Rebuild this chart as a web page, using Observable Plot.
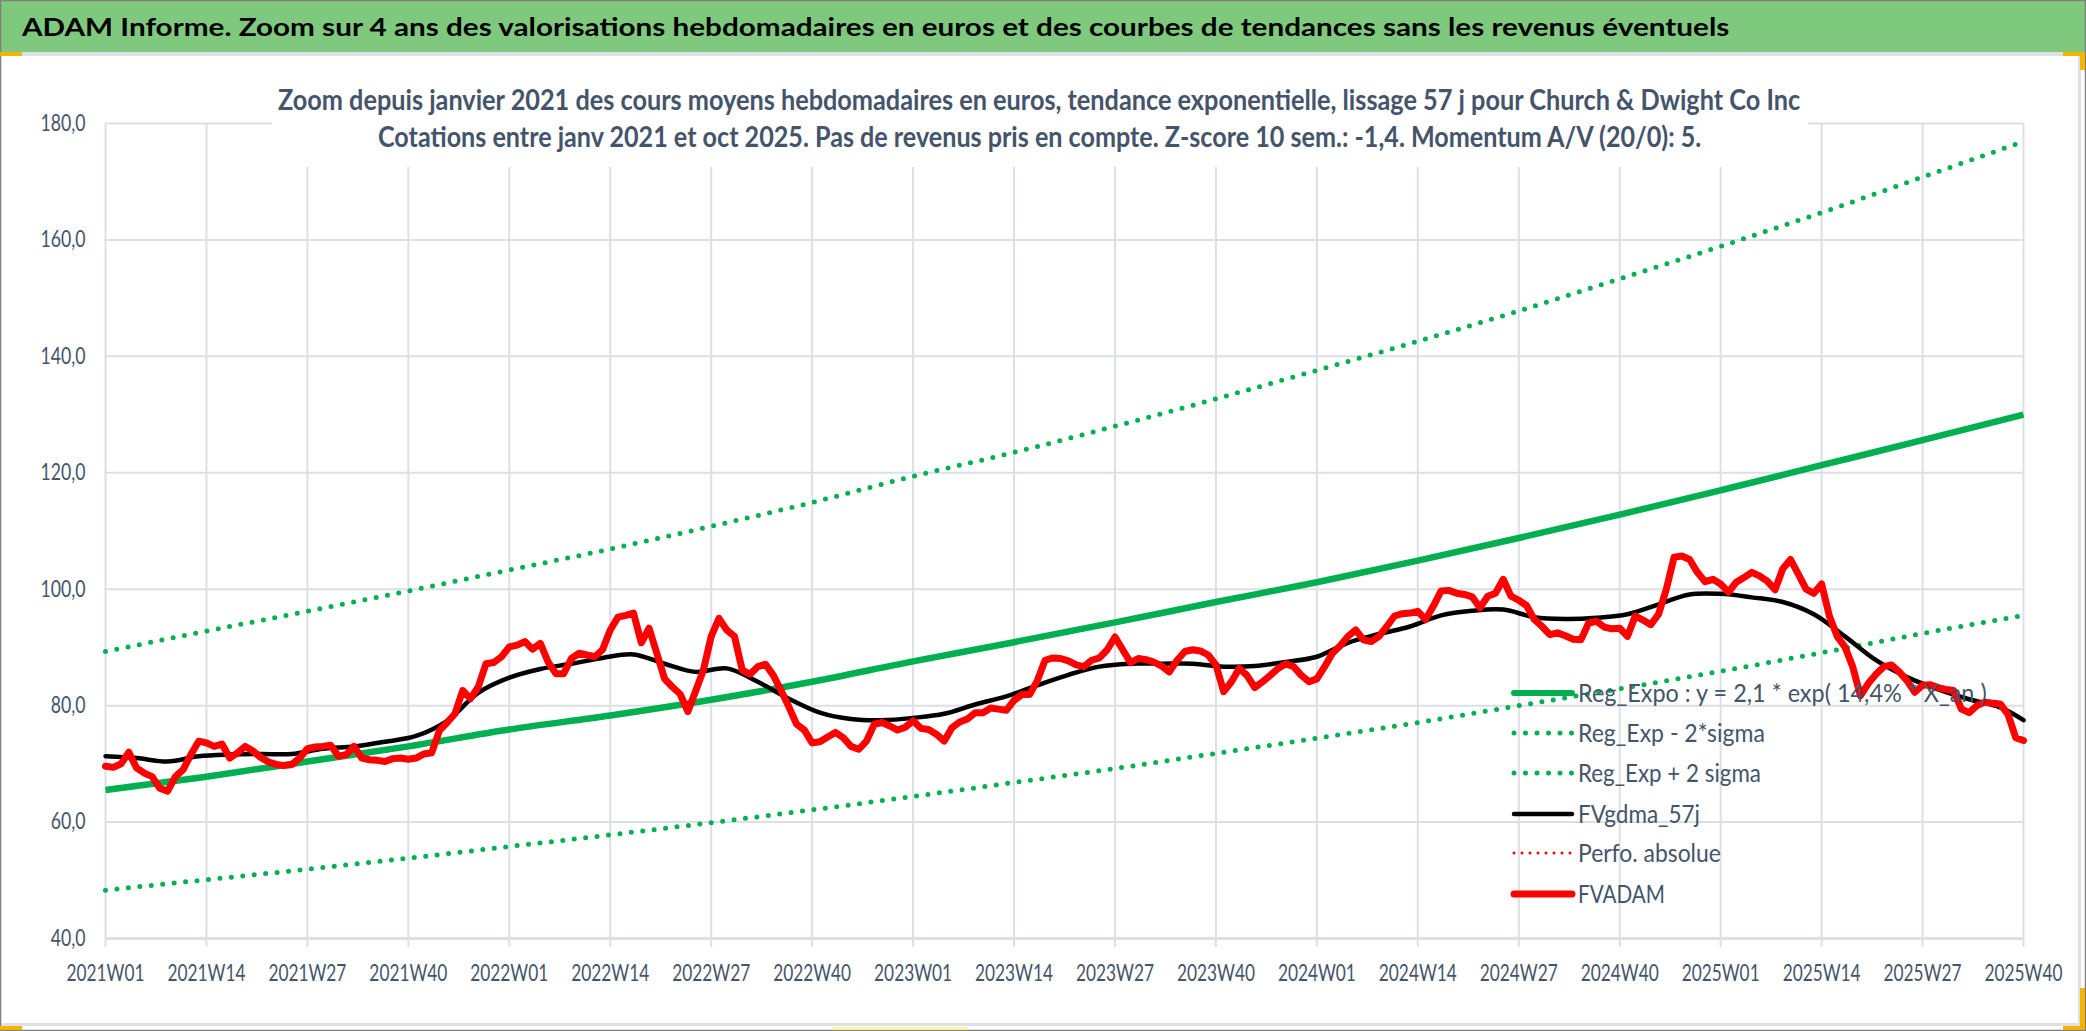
<!DOCTYPE html>
<html><head><meta charset="utf-8">
<script src="https://cdn.jsdelivr.net/npm/d3@7"></script>
<script src="https://cdn.jsdelivr.net/npm/@observablehq/plot@0.6"></script>
<style>
html,body{margin:0;padding:0;background:#fff;}
#page{position:relative;width:2086px;height:1031px;overflow:hidden;background:#fff;}
#page svg{position:absolute;left:0;top:0;}
</style></head><body><div id="page"></div>
<script>
const FONT = "Lato, 'Liberation Sans', sans-serif";

const titleText = "ADAM Informe. Zoom sur 4 ans des valorisations hebdomadaires en euros et des courbes de tendances sans les revenus éventuels";
const subtitle1 = "Zoom depuis janvier 2021 des cours moyens hebdomadaires en euros, tendance exponentielle, lissage 57 j pour Church & Dwight Co Inc";
const subtitle2 = "Cotations entre janv 2021 et oct 2025. Pas de revenus pris en compte. Z-score 10 sem.: -1,4. Momentum A/V (20/0): 5.";

// weekly category tick labels (one every 13 weeks)
const tickLabels = ["2021W01","2021W14","2021W27","2021W40","2022W01","2022W14","2022W27","2022W40",
  "2023W01","2023W14","2023W27","2023W40","2024W01","2024W14","2024W27","2024W40",
  "2025W01","2025W14","2025W27","2025W40"];
const yTicks = [40, 60, 80, 100, 120, 140, 160, 180];

// trend curves read at each tick label
const regExpo = [65.5,67.8,70.4,73.0,75.9,78.3,81.0,84.1,87.6,90.9,94.3,97.8,101.2,104.9,108.8,112.8,117.0,121.3,125.6,130.0];
const regMinus = [48.3,50.1,51.9,53.8,55.8,57.8,59.9,62.1,64.4,66.8,69.2,71.8,74.4,77.1,80.0,82.9,85.9,89.1,92.4,95.5];
const regPlus = [89.3,92.8,96.2,99.7,103.3,106.9,110.8,114.9,119.4,123.5,128.0,132.7,137.6,142.6,147.8,153.3,158.9,164.7,170.8,176.9];

// FVgdma_57j read every 4 weeks
const maWeek = [0,4,8,12,16,20,24,28,32,36,40,44,48,52,56,60,64,68,72,76,80,84,88,92,96,100,104,108,112,116,120,124,128,132,136,140,144,148,152,156,160,164,168,172,176,180,184,188,192,196,200,204,208,212,216,220,224,228,232,236,240,244,247];
const maVals = [71.3,71.0,70.4,71.3,71.6,71.7,71.7,72.6,73.0,73.8,74.8,77.4,82.2,84.8,86.3,87.2,88.2,88.8,87.2,85.8,86.4,84.1,81.2,78.8,77.7,77.5,77.9,78.6,80.2,81.6,83.5,85.3,86.7,87.2,87.2,87.2,86.7,86.8,87.5,88.4,90.8,92.3,93.6,95.5,96.3,96.5,95.2,94.9,95.1,95.7,97.4,99.1,99.2,98.6,97.8,95.7,91.9,87.8,84.9,82.8,81.1,79.7,77.5];

// FVADAM weekly (2021W01 .. 2025W40)
const fvadam = [
69.6,69.4,70.0,72.0,69.3,68.4,67.8,65.8,65.3,67.8,69.0,71.6,73.9,
73.6,73.0,73.4,71.0,71.9,73.0,72.2,71.1,70.3,69.9,69.7,69.9,71.0,
72.6,72.9,73.0,73.2,71.3,71.6,73.0,71.0,70.7,70.6,70.4,70.9,71.0,
70.8,71.0,71.7,71.9,75.7,77.1,78.6,82.6,81.2,83.2,87.2,87.4,88.4,
90.1,90.4,91.0,89.7,90.7,87.5,85.5,85.5,88.1,89.0,88.7,88.4,89.6,
93.0,95.2,95.5,95.9,90.8,93.3,89.0,84.6,83.2,82.0,79.0,82.5,86.1,
91.9,95.0,93.0,91.9,86.1,85.4,86.7,87.1,85.2,82.6,79.8,76.8,75.8,
73.6,73.8,74.6,75.4,74.5,73.0,72.5,73.9,76.8,77.1,76.5,75.8,76.3,
77.4,76.1,75.9,75.1,73.9,76.2,77.2,77.7,78.8,78.8,79.6,79.4,79.2,
80.9,81.9,81.9,84.3,87.8,88.2,88.1,87.7,87.0,86.7,87.8,88.2,89.6,
91.8,89.6,87.4,88.1,87.9,87.5,86.8,85.8,87.8,89.3,89.6,89.4,88.7,
87.0,82.4,84.1,86.4,85.2,83.1,84.1,85.2,86.4,87.2,86.7,85.2,84.1,
84.6,86.7,89.0,90.3,91.9,93.0,91.3,91.0,91.9,93.6,95.4,95.8,95.9,
96.2,94.8,97.1,99.7,99.8,99.3,99.1,98.7,96.8,98.8,99.3,101.7,98.8,
98.1,97.2,94.8,93.6,92.2,92.5,92.0,91.4,91.3,94.2,94.5,93.5,93.2,
93.3,91.9,95.4,94.7,93.9,95.7,100.0,105.5,105.7,105.1,102.9,101.3,101.7,
100.9,99.5,101.2,102.0,102.9,102.3,101.4,99.9,103.5,105.1,102.6,100.0,99.3,
100.9,95.4,91.9,90.1,86.7,81.7,83.8,85.4,86.7,87.0,85.8,84.3,82.3,
83.5,83.6,83.1,82.8,82.6,79.4,78.8,80.0,80.6,80.4,80.3,78.5,74.5,74.0];

const legendItems = [
  {label: "Reg_Expo : y = 2,1 * exp( 14,4% * X_an )", color: "#00B050", width: 6, dash: null, len: 409},
  {label: "Reg_Exp - 2*sigma", color: "#00B050", width: 5, dash: "0,11.5", len: 187},
  {label: "Reg_Exp + 2 sigma", color: "#00B050", width: 5, dash: "0,11.5", len: 183},
  {label: "FVgdma_57j", color: "#000000", width: 4.5, dash: null, len: 122},
  {label: "Perfo. absolue", color: "#FF0000", width: 3, dash: "0,8", len: 143},
  {label: "FVADAM", color: "#FF0000", width: 7, dash: null, len: 87}
];

const tickIndex = tickLabels.map((_, k) => k * 13);
const GREEN = "#00B050", GRID = "#DCDFE6", SLATE = "#44546A";

const chart = Plot.plot({
  width: 2086, height: 1031,
  marginLeft: 105, marginRight: 63, marginTop: 123, marginBottom: 93,
  style: {background: "transparent", fontFamily: FONT, fontSize: "23px", color: SLATE, overflow: "visible"},
  x: {type: "linear", domain: [0, 247], axis: null},
  y: {type: "linear", domain: [40, 180], axis: null},
  marks: [
    Plot.gridY(yTicks, {stroke: GRID, strokeOpacity: 1, strokeWidth: 2}),
    Plot.gridX(tickIndex, {stroke: GRID, strokeOpacity: 1, strokeWidth: 2}),
    Plot.ruleY([40], {stroke: GRID, strokeWidth: 3}),
    Plot.axisX(tickIndex, {tickSize: 9, tickPadding: 17, stroke: GRID, strokeWidth: 2, fill: SLATE,
      tickFormat: d => tickLabels[Math.round(d / 13)], fontSize: 23}),
    Plot.axisY(yTicks, {tickSize: 0, tickPadding: 20, fill: SLATE,
      tickFormat: d => d.toFixed(1).replace(".", ","), fontSize: 23}),
    Plot.line(regExpo, {x: (d, i) => tickIndex[i], y: d => d, stroke: GREEN, strokeWidth: 6.5, curve: "monotone-x", strokeLinecap: "butt"}),
    Plot.line(regMinus, {x: (d, i) => tickIndex[i], y: d => d, stroke: GREEN, strokeWidth: 5, strokeDasharray: "0,11.5", strokeLinecap: "round", curve: "monotone-x"}),
    Plot.line(regPlus, {x: (d, i) => tickIndex[i], y: d => d, stroke: GREEN, strokeWidth: 5, strokeDasharray: "0,11.5", strokeLinecap: "round", curve: "monotone-x"}),
    Plot.line(maVals, {x: (d, i) => maWeek[i], y: d => d, stroke: "#000", strokeWidth: 4.5, curve: "catmull-rom"}),
    Plot.line(fvadam, {x: (d, i) => i, y: d => d, stroke: "#FF0000", strokeWidth: 7, strokeLinejoin: "round", strokeLinecap: "round"})
  ]
});
const page = document.getElementById("page");
page.appendChild(chart);

// narrow the axis labels horizontally (reference uses a condensed face), keeping their anchor
function squeeze(node, s) {
  const xa = node.getAttribute("x");
  if (xa !== null && !isNaN(+xa)) node.setAttribute("x", +xa / s);
  const t = node.getAttribute("transform") || "";
  node.setAttribute("transform", `${t} scale(${s},1)`);
}
function squeezeAxis(label, refText, target) {
  const texts = chart.querySelectorAll(`g[aria-label="${label}"] text`);
  if (!texts.length) return;
  let ref = null;
  texts.forEach(n => { if (n.textContent === refText) ref = n; });
  const w = (ref || texts[0]).getComputedTextLength();
  if (w > 0) texts.forEach(n => squeeze(n, target / w));
}
squeezeAxis("x-axis tick label", "2025W40", 78);
squeezeAxis("y-axis tick label", "180,0", 45);

// overlay: header band, frame, subtitle box, legend
const ov = d3.select(page).append("svg").attr("width", 2086).attr("height", 1031)
  .attr("style", "position:absolute;left:0;top:0;pointer-events:none;")
  .attr("font-family", FONT);
ov.append("rect").attr("x", 0).attr("y", 0).attr("width", 2086).attr("height", 52).attr("fill", "#7EC97E");
ov.append("rect").attr("x", 0).attr("y", 52).attr("width", 2080).attr("height", 4).attr("fill", "#DDE0E7");
ov.append("rect").attr("x", 2078).attr("y", 52).attr("width", 3).attr("height", 975).attr("fill", "#DDE0E7");
ov.append("rect").attr("x", 0).attr("y", 1023).attr("width", 2080).attr("height", 3).attr("fill", "#DDE0E7");
ov.append("rect").attr("x", 0.5).attr("y", 0.5).attr("width", 2085).attr("height", 1030).attr("fill", "none").attr("stroke", "#7F7F7F").attr("stroke-width", 1.5);
const YEL = "#F4B400";
[[0,52,22,4],[2063,52,22,4],[2080,52,5,18],[2080,988,5,42],[2063,1026,22,4],[0,1026,22,4]].forEach(r =>
  ov.append("rect").attr("x", r[0]).attr("y", r[1]).attr("width", r[2]).attr("height", r[3]).attr("fill", YEL));
ov.append("rect").attr("x", 832).attr("y", 1027).attr("width", 136).attr("height", 3).attr("fill", "#FAF3A0");

function fitText(sel, x, y, target) {
  const w = sel.node().getComputedTextLength();
  const s = w > 0 ? target / w : 1;
  sel.attr("x", 0).attr("y", 0).attr("transform", `translate(${x},${y}) scale(${s},1)`);
}

fitText(ov.append("text").attr("font-size", 25.5).attr("font-weight", "bold").attr("fill", "#000").text(titleText), 22, 36, 1708);

ov.append("rect").attr("x", 272).attr("y", 60).attr("width", 1536).attr("height", 107).attr("fill", "#fff");
fitText(ov.append("text").attr("font-size", 29).attr("font-weight", "bold").attr("fill", SLATE).text(subtitle1), 278, 110, 1523);
fitText(ov.append("text").attr("font-size", 29).attr("font-weight", "bold").attr("fill", SLATE).text(subtitle2), 378, 147, 1324);

const legendY = [693, 733, 773, 814, 853, 894];
legendItems.forEach((it, k) => {
  const y = legendY[k];
  const ln = ov.append("line").attr("x1", 1514).attr("x2", 1572).attr("y1", y).attr("y2", y)
    .attr("stroke", it.color).attr("stroke-width", it.width).attr("stroke-linecap", "round");
  if (it.dash) ln.attr("stroke-dasharray", it.dash);
  fitText(ov.append("text").attr("font-size", 25).attr("fill", SLATE).text(it.label), 1578, y + 9, it.len);
});
</script></body></html>
